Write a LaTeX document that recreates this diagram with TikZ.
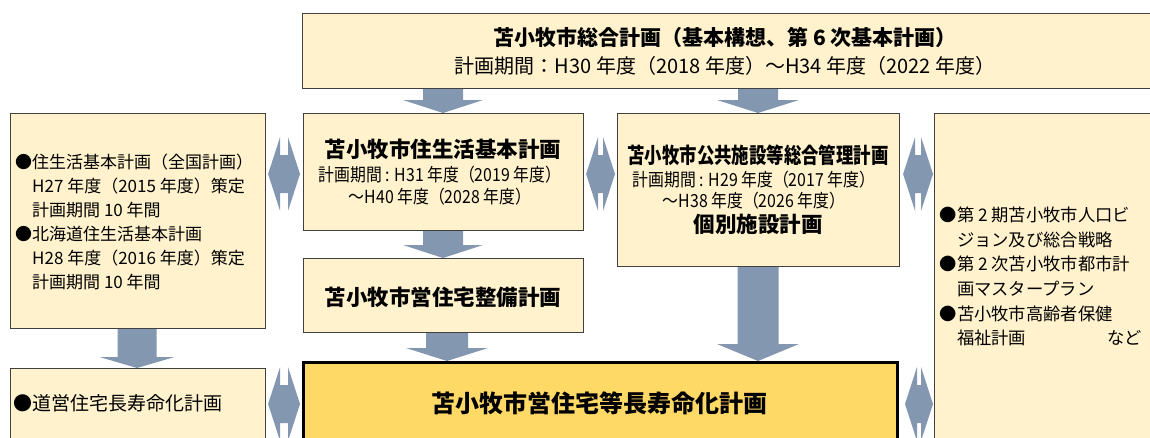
\documentclass[tikz,border=0pt]{standalone}
\usepackage{fontspec}
\setmainfont{Noto Sans CJK JP}
\newfontfamily\condA{Noto Sans CJK JP}[FakeStretch=0.81]
\newfontfamily\condB{Noto Sans CJK JP}[FakeStretch=0.88]
\usetikzlibrary{calc}
\definecolor{boxfill}{HTML}{FFF2CC}
\definecolor{mainfill}{HTML}{FFD966}
\definecolor{arrowc}{HTML}{8497B0}
\definecolor{edgec}{HTML}{404040}
\newcommand{\varrow}[6]{%
\fill[arrowc] ($(#1 -| #3)+(-#4,0)$) -- ($(#1 -| #3)+(#4,0)$) -- ($(#2 -| #3)+(#4,-#6)$) -- ($(#2 -| #3)+(#5,-#6)$) -- (#2 -| #3) -- ($(#2 -| #3)+(-#5,-#6)$) -- ($(#2 -| #3)+(-#4,-#6)$) -- cycle;}
\newcommand{\harrow}[5]{%
\fill[arrowc] ($(#1 |- #5)+(#2,0)$) -- ($(#1 |- #5)+(#2+12,-37)$) -- ($(#1 |- #5)+(#2+12,-19)$) -- ($(#3 |- #5)+(-#4-12,-19)$) -- ($(#3 |- #5)+(-#4-12,-37)$) -- ($(#3 |- #5)+(-#4,0)$) -- ($(#3 |- #5)+(-#4-12,37)$) -- ($(#3 |- #5)+(-#4-12,19)$) -- ($(#1 |- #5)+(#2+12,19)$) -- ($(#1 |- #5)+(#2+12,37)$) -- cycle;}
\tikzset{
  box/.style={draw=edgec, line width=1.1pt, fill=boxfill, inner sep=0pt, anchor=north west},
  mainbox/.style={draw=black, line width=3pt, fill=mainfill, inner sep=0pt, anchor=north west},
  ttl/.style={inner sep=0pt, font=\bfseries\fontsize{21.5}{24}\selectfont},
  ttlc/.style={inner sep=0pt, font=\condA\bfseries\fontsize{21.5}{24}\selectfont},
  per/.style={inner sep=0pt, font=\condB\fontsize{18}{22}\selectfont},
  lst/.style={inner sep=0pt, align=left, anchor=west},
}
\begin{document}
\begin{tikzpicture}[x=1pt,y=-1pt]
\useasboundingbox (0,0) rectangle (1150,437);
\clip (0,0) rectangle (1150,437);
% boxes
\node[box, minimum width=850, minimum height=75] (top) at (302,13) {};
\node[box, minimum width=255, minimum height=215] (lb) at (10,113) {};
\node[box, minimum width=280, minimum height=117] (cb1) at (303,113) {};
\node[box, minimum width=280, minimum height=74] (cb2) at (303,258) {};
\node[box, minimum width=282, minimum height=153] (rc) at (617,113) {};
\node[box, minimum width=250, minimum height=340] (rb) at (934,113) {};
\node[box, minimum width=255, minimum height=90] (bl) at (10,368) {};
\node[mainbox, minimum width=594, minimum height=90] (mb) at (302,361) {};
% helper coordinates
\coordinate (xa) at (443,0);
\coordinate (xb) at (758,0);
\coordinate (xc) at (447,0);
\coordinate (xd) at (137,0);
\coordinate (yt) at (0,174);
\coordinate (yb) at (0,404);
% vertical arrows
\varrow{top.south}{cb1.north}{xa}{20}{40}{13}
\varrow{top.south}{rc.north}{xb}{20}{41}{13}
\varrow{cb1.south}{cb2.north}{xa}{20}{40}{13}
\varrow{cb2.south}{mb.north}{xc}{21}{41}{13}
\varrow{rc.south}{mb.north}{xb}{20.5}{41}{17}
\varrow{lb.south}{bl.north}{xd}{19.5}{37.5}{11}
% double arrows
\harrow{lb.east}{2}{cb1.west}{3}{yt}
\harrow{cb1.east}{2}{rc.west}{2}{yt}
\harrow{rc.east}{3}{rb.west}{1}{yt}
\harrow{bl.east}{2}{mb.west}{2}{yb}
\harrow{mb.east}{6}{rb.west}{1}{yb}
% texts
\node[inner sep=0pt, font=\bfseries\fontsize{21}{24}\selectfont] (t1) at (725,37) {苫小牧市総合計画（基本構想、第 6 次基本計画）};
\node[inner sep=0pt, font=\fontsize{20}{22}\selectfont] (t2) at (725,66) {計画期間：H30 年度（2018 年度）～H34 年度（2022 年度）};
\node[ttl] (c1a) at (443,149) {苫小牧市住生活基本計画};
\node[per] (c1b) at (440,175) {計画期間 : H31 年度（2019 年度）};
\node[per] (c1c) at (440,197) {～H40 年度（2028 年度）};
\node[ttl] (c2a) at (443,297) {苫小牧市営住宅整備計画};
\node[ttlc] (r1a) at (758,155) {苫小牧市公共施設等総合管理計画};
\node[per] (r1b) at (754,180) {計画期間 : H29 年度（2017 年度）};
\node[per] (r1c) at (754,201) {～H38 年度（2026 年度）};
\node[ttl] (r1d) at (758,224) {個別施設計画};
\node[lst, font=\fontsize{17}{24}\selectfont] (lbt) at (15,222) {●住生活基本計画（全国計画）\\
\hspace*{1em}H27 年度（2015 年度）策定\\
\hspace*{1em}計画期間 10 年間\\
●北海道住生活基本計画\\
\hspace*{1em}H28 年度（2016 年度）策定\\
\hspace*{1em}計画期間 10 年間};
\node[lst, font=\fontsize{17.3}{24.6}\selectfont] (rbt) at (939.5,276.5) {●第 2 期苫小牧市人口ビ\\
\hspace*{1em}ジョン及び総合戦略\\
●第 2 次苫小牧市都市計\\
\hspace*{1em}画マスタープラン\\
●苫小牧市高齢者保健\\
\hspace*{1em}\makebox[150pt][l]{福祉計画}など};
\node[lst, font=\fontsize{19}{22}\selectfont] (blt) at (13,403) {●道営住宅長寿命化計画};
\node[inner sep=0pt, font=\bfseries\fontsize{24}{28}\selectfont] (mbt) at (599,403) {苫小牧市営住宅等長寿命化計画};
\end{tikzpicture}
\end{document}
